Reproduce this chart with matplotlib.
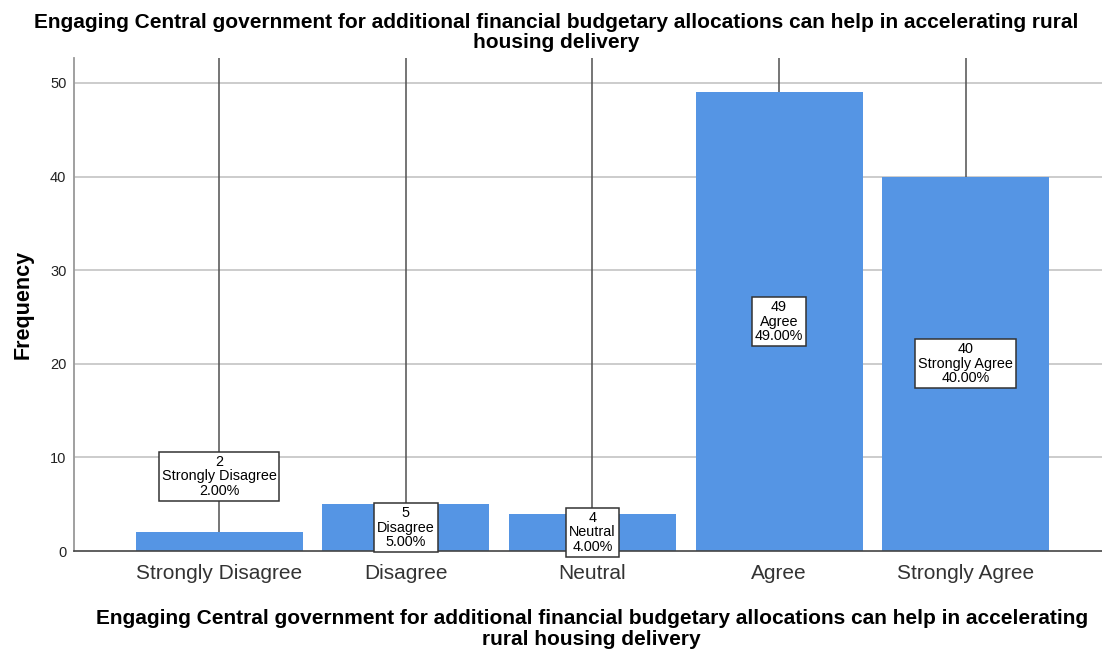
import matplotlib.pyplot as plt
import numpy as np

plt.rcParams['font.family'] = ['Liberation Sans', 'DejaVu Sans']

# data
categories = ['Strongly Disagree', 'Disagree', 'Neutral', 'Agree', 'Strongly Agree']
counts = [2, 5, 4, 49, 40]
percents = [2.00, 5.00, 4.00, 49.00, 40.00]
title = ('Engaging Central government for additional financial budgetary allocations can help in accelerating rural\n'
         'housing delivery')
xtitle = ('Engaging Central government for additional financial budgetary allocations can help in accelerating\n'
          'rural housing delivery')

bar_color = '#5595e4'
x = np.arange(len(categories))

fig = plt.figure(figsize=(11.02, 6.51), dpi=100)
ax = fig.add_axes([0.0672, 0.1536, 0.9328, 0.7573])

ymax = 52.67
ax.set_ylim(0, ymax)
ax.set_xlim(-0.777, 4.73)

# grid
ax.set_yticks([0, 10, 20, 30, 40, 50])
for t in [10, 20, 30, 40, 50]:
    ax.axhline(t, color='#c8c8c8', lw=1.3, zorder=0)

# leader lines from top
ax.vlines(x, counts, ymax, color='#505050', lw=1.1, zorder=1)

ax.bar(x, counts, width=0.895, color=bar_color, zorder=2)

# label boxes
for i, (c, p, cat) in enumerate(zip(counts, percents, categories)):
    y = c / 2 if c / 2 >= 2 else 8.0
    ax.text(i, y, f'{c}\n{cat}\n{p:.2f}%', ha='center', va='center',
            fontsize=10.4, linespacing=1.05, color='black', zorder=4,
            bbox=dict(boxstyle='square,pad=0.2', fc='white', ec='#333333', lw=1.1))

ax.set_xticks(x)
ax.set_xticklabels(categories, fontsize=15, color='#333333')
ax.tick_params(axis='x', length=0, pad=9)
ax.tick_params(axis='y', length=0, labelsize=10.5, pad=5.5, colors='#222222')

for s in ['top', 'right']:
    ax.spines[s].set_visible(False)
ax.spines['left'].set_color('#999999')
ax.spines['left'].set_linewidth(1.3)
ax.spines['bottom'].set_color('#444444')
ax.spines['bottom'].set_linewidth(1.2)

ax.set_ylabel('Frequency', fontsize=15.5, fontweight='bold', labelpad=12)

fig.text(0.505, 0.950, title, ha='center', va='center', fontsize=15,
         fontweight='bold', linespacing=1.12)
fig.text(0.537, 0.034, xtitle, ha='center', va='center', fontsize=15,
         fontweight='bold', linespacing=1.12)

fig.savefig('out.png', dpi=100)
